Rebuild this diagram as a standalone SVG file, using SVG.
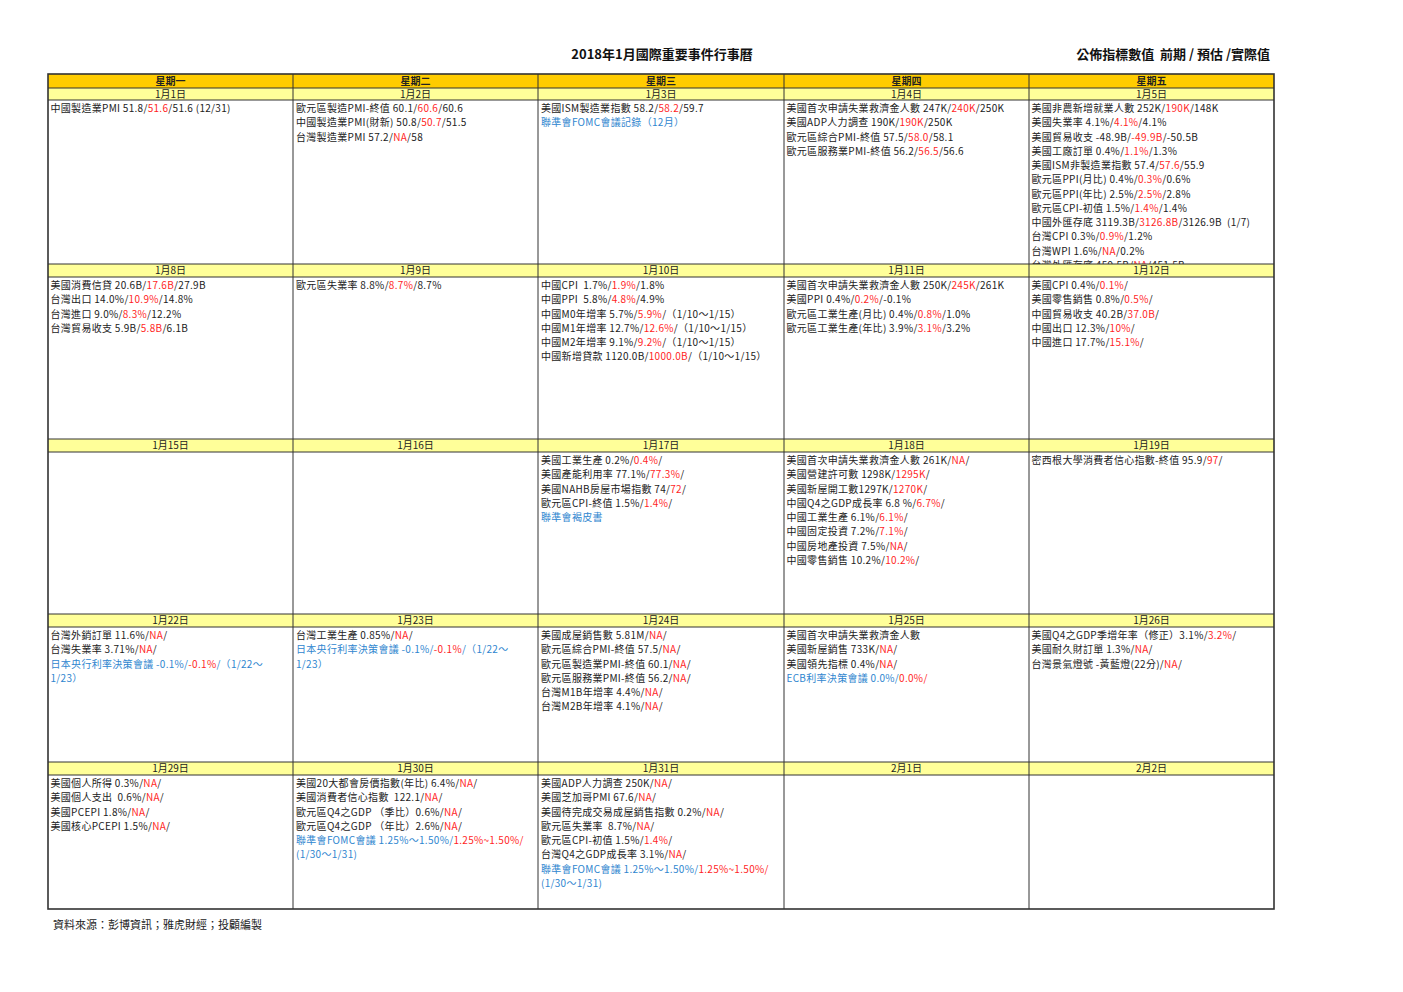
<svg xmlns="http://www.w3.org/2000/svg" width="1403" height="992" viewBox="0 0 1403 992">
<style>
text{font-family:"Noto Sans CJK TC","Noto Sans CJK SC","Liberation Sans",sans-serif;}
.t{font-size:10px;fill:#222;letter-spacing:0.3px;}
.h{font-size:10px;fill:#222;font-weight:700;text-anchor:middle;}
.d{font-size:10px;fill:#222;text-anchor:middle;}
.r{fill:#FF1F1F;}
.b{fill:#2F86CF;}
.hd{fill:#FFCC00;}
.dt{fill:#FFFF99;}
.g{stroke:#333;stroke-width:1;fill:none;}
</style>
<defs>
<clipPath id="c15"><rect x="1029" y="100" width="245" height="164"/></clipPath>
</defs>
<rect width="1403" height="992" fill="#fff"/>
<g id="title">
<text x="662" y="59" style="font-size:13px;font-weight:700;text-anchor:middle;fill:#111">2018年1月國際重要事件行事曆</text>
<text x="1270" y="59" style="font-size:13px;font-weight:700;text-anchor:end;fill:#111" xml:space="preserve">公佈指標數值  前期 / 預估 /實際值</text>
</g>
<g id="header">
<rect class="hd" x="48" y="74" width="1226" height="14"/>
<text class="h" x="170.5" y="85">星期一</text>
<text class="h" x="415.5" y="85">星期二</text>
<text class="h" x="661" y="85">星期三</text>
<text class="h" x="906.5" y="85">星期四</text>
<text class="h" x="1151.5" y="85">星期五</text>
</g>
<g id="daterows">
<rect class="dt" x="48" y="88" width="1226" height="12"/>
<rect class="dt" x="48" y="264" width="1226" height="13"/>
<rect class="dt" x="48" y="439" width="1226" height="13"/>
<rect class="dt" x="48" y="614" width="1226" height="13"/>
<rect class="dt" x="48" y="762" width="1226" height="13"/>
</g>
<g id="week1">
<g id="d0101"><text class="d" x="170.5" y="98">1月1日</text>
<text class="t" x="50.5" y="112">中國製造業PMI 51.8/<tspan class="r">51.6</tspan>/51.6 (12/31)</text></g>
<g id="d0102"><text class="d" x="415.5" y="98">1月2日</text>
<text class="t" x="296" y="112">歐元區製造PMI-終值 60.1/<tspan class="r">60.6</tspan>/60.6</text>
<text class="t" x="296" y="126.3">中國製造業PMI(財新) 50.8/<tspan class="r">50.7</tspan>/51.5</text>
<text class="t" x="296" y="140.5">台灣製造業PMI 57.2/<tspan class="r">NA</tspan>/58</text></g>
<g id="d0103"><text class="d" x="661" y="98">1月3日</text>
<text class="t" x="541" y="112">美國ISM製造業指數 58.2/<tspan class="r">58.2</tspan>/59.7</text>
<text class="t b" x="541" y="126.3">聯準會FOMC會議記錄（12月）</text></g>
<g id="d0104"><text class="d" x="906.5" y="98">1月4日</text>
<text class="t" x="786.5" y="112">美國首次申請失業救濟金人數 247K/<tspan class="r">240K</tspan>/250K</text>
<text class="t" x="786.5" y="126.3">美國ADP人力調查 190K/<tspan class="r">190K</tspan>/250K</text>
<text class="t" x="786.5" y="140.5">歐元區綜合PMI-終值 57.5/<tspan class="r">58.0</tspan>/58.1</text>
<text class="t" x="786.5" y="154.8">歐元區服務業PMI-終值 56.2/<tspan class="r">56.5</tspan>/56.6</text></g>
<g id="d0105"><text class="d" x="1151.5" y="98">1月5日</text>
<g clip-path="url(#c15)">
<text class="t" x="1031.5" y="112">美國非農新增就業人數 252K/<tspan class="r">190K</tspan>/148K</text>
<text class="t" x="1031.5" y="126.3">美國失業率 4.1%/<tspan class="r">4.1%</tspan>/4.1%</text>
<text class="t" x="1031.5" y="140.5">美國貿易收支 -48.9B/<tspan class="r">-49.9B</tspan>/-50.5B</text>
<text class="t" x="1031.5" y="154.8">美國工廠訂單 0.4%/<tspan class="r">1.1%</tspan>/1.3%</text>
<text class="t" x="1031.5" y="169">美國ISM非製造業指數 57.4/<tspan class="r">57.6</tspan>/55.9</text>
<text class="t" x="1031.5" y="183.3">歐元區PPI(月比) 0.4%/<tspan class="r">0.3%</tspan>/0.6%</text>
<text class="t" x="1031.5" y="197.5">歐元區PPI(年比) 2.5%/<tspan class="r">2.5%</tspan>/2.8%</text>
<text class="t" x="1031.5" y="211.8">歐元區CPI-初值 1.5%/<tspan class="r">1.4%</tspan>/1.4%</text>
<text class="t" x="1031.5" y="226" xml:space="preserve">中國外匯存底 3119.3B/<tspan class="r">3126.8B</tspan>/3126.9B  (1/7)</text>
<text class="t" x="1031.5" y="240.3">台灣CPI 0.3%/<tspan class="r">0.9%</tspan>/1.2%</text>
<text class="t" x="1031.5" y="254.5">台灣WPI 1.6%/<tspan class="r">NA</tspan>/0.2%</text>
<text class="t" x="1031.5" y="268.8">台灣外匯存底 459.5B/<tspan class="r">NA</tspan>/451.5B</text>
</g></g>
</g>
<g id="week2">
<g id="d0108"><text class="d" x="170.5" y="274">1月8日</text>
<text class="t" x="50.5" y="289">美國消費信貸 20.6B/<tspan class="r">17.6B</tspan>/27.9B</text>
<text class="t" x="50.5" y="303.3">台灣出口 14.0%/<tspan class="r">10.9%</tspan>/14.8%</text>
<text class="t" x="50.5" y="317.5">台灣進口 9.0%/<tspan class="r">8.3%</tspan>/12.2%</text>
<text class="t" x="50.5" y="331.8">台灣貿易收支 5.9B/<tspan class="r">5.8B</tspan>/6.1B</text></g>
<g id="d0109"><text class="d" x="415.5" y="274">1月9日</text>
<text class="t" x="296" y="289">歐元區失業率 8.8%/<tspan class="r">8.7%</tspan>/8.7%</text></g>
<g id="d0110"><text class="d" x="661" y="274">1月10日</text>
<text class="t" x="541" y="289" xml:space="preserve">中國CPI  1.7%/<tspan class="r">1.9%</tspan>/1.8%</text>
<text class="t" x="541" y="303.3" xml:space="preserve">中國PPI  5.8%/<tspan class="r">4.8%</tspan>/4.9%</text>
<text class="t" x="541" y="317.5">中國M0年增率 5.7%/<tspan class="r">5.9%</tspan>/（1/10～1/15）</text>
<text class="t" x="541" y="331.8">中國M1年增率 12.7%/<tspan class="r">12.6%</tspan>/（1/10～1/15）</text>
<text class="t" x="541" y="346">中國M2年增率 9.1%/<tspan class="r">9.2%</tspan>/（1/10～1/15）</text>
<text class="t" x="541" y="360.3">中國新增貸款 1120.0B/<tspan class="r">1000.0B</tspan>/（1/10～1/15）</text></g>
<g id="d0111"><text class="d" x="906.5" y="274">1月11日</text>
<text class="t" x="786.5" y="289">美國首次申請失業救濟金人數 250K/<tspan class="r">245K</tspan>/261K</text>
<text class="t" x="786.5" y="303.3">美國PPI 0.4%/<tspan class="r">0.2%</tspan>/-0.1%</text>
<text class="t" x="786.5" y="317.5">歐元區工業生產(月比) 0.4%/<tspan class="r">0.8%</tspan>/1.0%</text>
<text class="t" x="786.5" y="331.8">歐元區工業生產(年比) 3.9%/<tspan class="r">3.1%</tspan>/3.2%</text></g>
<g id="d0112"><text class="d" x="1151.5" y="274">1月12日</text>
<text class="t" x="1031.5" y="289">美國CPI 0.4%/<tspan class="r">0.1%</tspan>/</text>
<text class="t" x="1031.5" y="303.3">美國零售銷售 0.8%/<tspan class="r">0.5%</tspan>/</text>
<text class="t" x="1031.5" y="317.5">中國貿易收支 40.2B/<tspan class="r">37.0B</tspan>/</text>
<text class="t" x="1031.5" y="331.8">中國出口 12.3%/<tspan class="r">10%</tspan>/</text>
<text class="t" x="1031.5" y="346">中國進口 17.7%/<tspan class="r">15.1%</tspan>/</text></g>
</g>
<g id="week3">
<g id="d0115"><text class="d" x="170.5" y="449">1月15日</text></g>
<g id="d0116"><text class="d" x="415.5" y="449">1月16日</text></g>
<g id="d0117"><text class="d" x="661" y="449">1月17日</text>
<text class="t" x="541" y="464">美國工業生產 0.2%/<tspan class="r">0.4%</tspan>/</text>
<text class="t" x="541" y="478.3">美國產能利用率 77.1%/<tspan class="r">77.3%</tspan>/</text>
<text class="t" x="541" y="492.5">美國NAHB房屋市場指數 74/<tspan class="r">72</tspan>/</text>
<text class="t" x="541" y="506.8">歐元區CPI-終值 1.5%/<tspan class="r">1.4%</tspan>/</text>
<text class="t b" x="541" y="521">聯準會褐皮書</text></g>
<g id="d0118"><text class="d" x="906.5" y="449">1月18日</text>
<text class="t" x="786.5" y="464">美國首次申請失業救濟金人數 261K/<tspan class="r">NA</tspan>/</text>
<text class="t" x="786.5" y="478.3">美國營建許可數 1298K/<tspan class="r">1295K</tspan>/</text>
<text class="t" x="786.5" y="492.5">美國新屋開工數1297K/<tspan class="r">1270K</tspan>/</text>
<text class="t" x="786.5" y="506.8">中國Q4之GDP成長率 6.8 %/<tspan class="r">6.7%</tspan>/</text>
<text class="t" x="786.5" y="521">中國工業生產 6.1%/<tspan class="r">6.1%</tspan>/</text>
<text class="t" x="786.5" y="535.3">中國固定投資 7.2%/<tspan class="r">7.1%</tspan>/</text>
<text class="t" x="786.5" y="549.5">中國房地產投資 7.5%/<tspan class="r">NA</tspan>/</text>
<text class="t" x="786.5" y="563.8">中國零售銷售 10.2%/<tspan class="r">10.2%</tspan>/</text></g>
<g id="d0119"><text class="d" x="1151.5" y="449">1月19日</text>
<text class="t" x="1031.5" y="464">密西根大學消費者信心指數-終值 95.9/<tspan class="r">97</tspan>/</text></g>
</g>
<g id="week4">
<g id="d0122"><text class="d" x="170.5" y="624">1月22日</text>
<text class="t" x="50.5" y="639">台灣外銷訂單 11.6%/<tspan class="r">NA</tspan>/</text>
<text class="t" x="50.5" y="653.3">台灣失業率 3.71%/<tspan class="r">NA</tspan>/</text>
<text class="t b" x="50.5" y="667.5">日本央行利率決策會議 -0.1%/<tspan class="r">-0.1%</tspan>/（1/22～</text>
<text class="t b" x="50.5" y="681.8">1/23）</text></g>
<g id="d0123"><text class="d" x="415.5" y="624">1月23日</text>
<text class="t" x="296" y="639">台灣工業生產 0.85%/<tspan class="r">NA</tspan>/</text>
<text class="t b" x="296" y="653.3">日本央行利率決策會議 -0.1%/<tspan class="r">-0.1%</tspan>/（1/22～</text>
<text class="t b" x="296" y="667.5">1/23）</text></g>
<g id="d0124"><text class="d" x="661" y="624">1月24日</text>
<text class="t" x="541" y="639">美國成屋銷售數 5.81M/<tspan class="r">NA</tspan>/</text>
<text class="t" x="541" y="653.3">歐元區綜合PMI-終值 57.5/<tspan class="r">NA</tspan>/</text>
<text class="t" x="541" y="667.5">歐元區製造業PMI-終值 60.1/<tspan class="r">NA</tspan>/</text>
<text class="t" x="541" y="681.8">歐元區服務業PMI-終值 56.2/<tspan class="r">NA</tspan>/</text>
<text class="t" x="541" y="696">台灣M1B年增率 4.4%/<tspan class="r">NA</tspan>/</text>
<text class="t" x="541" y="710.3">台灣M2B年增率 4.1%/<tspan class="r">NA</tspan>/</text></g>
<g id="d0125"><text class="d" x="906.5" y="624">1月25日</text>
<text class="t" x="786.5" y="639">美國首次申請失業救濟金人數</text>
<text class="t" x="786.5" y="653.3">美國新屋銷售 733K/<tspan class="r">NA</tspan>/</text>
<text class="t" x="786.5" y="667.5">美國領先指標 0.4%/<tspan class="r">NA</tspan>/</text>
<text class="t b" x="786.5" y="681.8">ECB利率決策會議 0.0%/<tspan class="r">0.0%/</tspan></text></g>
<g id="d0126"><text class="d" x="1151.5" y="624">1月26日</text>
<text class="t" x="1031.5" y="639">美國Q4之GDP季增年率（修正）3.1%/<tspan class="r">3.2%</tspan>/</text>
<text class="t" x="1031.5" y="653.3">美國耐久財訂單 1.3%/<tspan class="r">NA</tspan>/</text>
<text class="t" x="1031.5" y="667.5">台灣景氣燈號 -黃藍燈(22分)/<tspan class="r">NA</tspan>/</text></g>
</g>
<g id="week5">
<g id="d0129"><text class="d" x="170.5" y="772">1月29日</text>
<text class="t" x="50.5" y="787">美國個人所得 0.3%/<tspan class="r">NA</tspan>/</text>
<text class="t" x="50.5" y="801.3" xml:space="preserve">美國個人支出  0.6%/<tspan class="r">NA</tspan>/</text>
<text class="t" x="50.5" y="815.5">美國PCEPI 1.8%/<tspan class="r">NA</tspan>/</text>
<text class="t" x="50.5" y="829.8">美國核心PCEPI 1.5%/<tspan class="r">NA</tspan>/</text></g>
<g id="d0130"><text class="d" x="415.5" y="772">1月30日</text>
<text class="t" x="296" y="787">美國20大都會房價指數(年比) 6.4%/<tspan class="r">NA</tspan>/</text>
<text class="t" x="296" y="801.3" xml:space="preserve">美國消費者信心指數  122.1/<tspan class="r">NA</tspan>/</text>
<text class="t" x="296" y="815.5">歐元區Q4之GDP （季比）0.6%/<tspan class="r">NA</tspan>/</text>
<text class="t" x="296" y="829.8">歐元區Q4之GDP （年比）2.6%/<tspan class="r">NA</tspan>/</text>
<text class="t b" x="296" y="844">聯準會FOMC會議 1.25%～1.50%/<tspan class="r">1.25%~1.50%/</tspan></text>
<text class="t b" x="296" y="858.3">(1/30～1/31)</text></g>
<g id="d0131"><text class="d" x="661" y="772">1月31日</text>
<text class="t" x="541" y="787">美國ADP人力調查 250K/<tspan class="r">NA</tspan>/</text>
<text class="t" x="541" y="801.3">美國芝加哥PMI 67.6/<tspan class="r">NA</tspan>/</text>
<text class="t" x="541" y="815.5">美國待完成交易成屋銷售指數 0.2%/<tspan class="r">NA</tspan>/</text>
<text class="t" x="541" y="829.8" xml:space="preserve">歐元區失業率  8.7%/<tspan class="r">NA</tspan>/</text>
<text class="t" x="541" y="844">歐元區CPI-初值 1.5%/<tspan class="r">1.4%</tspan>/</text>
<text class="t" x="541" y="858.3">台灣Q4之GDP成長率 3.1%/<tspan class="r">NA</tspan>/</text>
<text class="t b" x="541" y="872.5">聯準會FOMC會議 1.25%～1.50%/<tspan class="r">1.25%~1.50%/</tspan></text>
<text class="t b" x="541" y="886.8">(1/30～1/31)</text></g>
<g id="d0201"><text class="d" x="906.5" y="772">2月1日</text></g>
<g id="d0202"><text class="d" x="1151.5" y="772">2月2日</text></g>
</g>
<g id="grid" class="g">
<path d="M48 88H1274M48 100H1274M48 264H1274M48 277H1274M48 439H1274M48 452H1274M48 614H1274M48 627H1274M48 762H1274M48 775H1274"/>
<path d="M293 74V909M538 74V909M784 74V909M1029 74V909"/>
<rect x="48" y="74" width="1226" height="835" style="stroke-width:1.6"/>
</g>
<g id="footer">
<text x="53" y="929" style="font-size:11px;fill:#222">資料來源：彭博資訊；雅虎財經；投顧編製</text>
</g>
</svg>
